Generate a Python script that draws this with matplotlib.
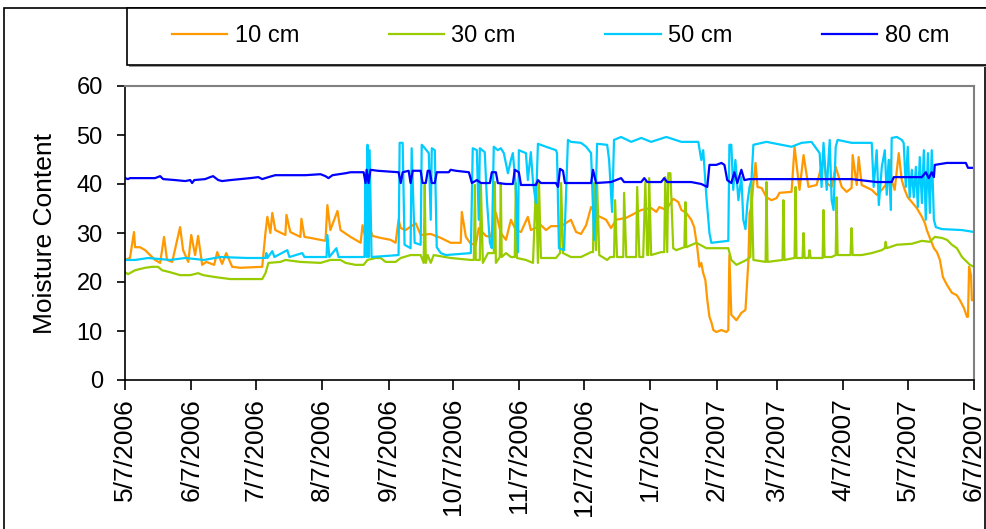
"""Soil moisture content at four depths, May 2006 - June 2007."""

import matplotlib
import matplotlib.pyplot as plt
import numpy as np
import pandas as pd
from matplotlib.patches import Rectangle

matplotlib.use("Agg")

START = pd.Timestamp("2006-05-07")

tick_labels = [
    "5/7/2006", "6/7/2006", "7/7/2006", "8/7/2006", "9/7/2006", "10/7/2006",
    "11/7/2006", "12/7/2006", "1/7/2007", "2/7/2007", "3/7/2007", "4/7/2007",
    "5/7/2007", "6/7/2007",
]
series_names = ["10 cm", "30 cm", "50 cm", "80 cm"]
series_colors = ["#FF9900", "#99CC00", "#00CCFF", "#0000FF"]

# (days since 5/7/2006, moisture content)
cm10 = [
    (0, 24.5), (2.3, 24.9), (4.2, 30.2), (4.7, 27.1), (7.0, 27.1), (9.4, 26.5),
    (11.7, 25.5), (14.0, 24.5), (16.4, 23.9), (18.2, 29.2), (19.6, 24.5),
    (22.0, 24.1), (25.7, 31.2), (27.1, 26.5), (29.5, 24.1), (30.9, 29.6),
    (32.7, 25.5), (34.1, 29.4), (36.0, 23.5), (37.9, 24.1), (41.6, 23.5),
    (43.0, 26.1), (45.3, 23.7), (47.2, 25.9), (50.0, 23.1), (53.8, 22.9),
    (64.0, 23.1), (65.5, 30.0), (66.4, 33.3), (67.8, 30.0), (68.7, 34.1),
    (70.1, 30.6), (74.8, 29.6), (75.3, 33.7), (77.1, 30.2), (81.8, 29.2),
    (82.3, 32.9), (83.7, 29.2), (86.5, 29.0), (91.2, 28.6), (93.5, 28.4),
    (94.4, 35.7), (95.8, 30.6), (99.1, 34.5), (100.5, 30.6), (105.2, 29.2),
    (109.9, 28.0), (110.8, 31.6), (112.2, 29.0), (114.5, 30.6), (115.5, 29.4),
    (119.2, 29.0), (123.9, 28.6), (126.2, 28.0), (127.6, 32.7), (128.6, 31.0),
    (130.9, 30.6), (135.6, 32.0), (137.9, 29.6), (142.6, 29.8), (147.3, 29.0),
    (151.9, 28.0), (156.6, 28.0), (157.1, 34.3), (159.0, 29.2), (161.3, 27.8),
    (163.6, 27.6), (165.0, 31.0), (168.3, 29.4), (170.6, 29.2), (173.0, 34.1),
    (175.3, 30.0), (177.7, 28.6), (180.0, 32.7), (182.3, 30.6), (184.7, 30.2),
    (187.9, 33.3), (189.3, 30.6), (194.0, 31.6), (196.4, 30.6), (198.7, 31.4),
    (203.4, 31.4), (208.0, 32.7), (210.4, 30.2), (212.7, 29.8), (215.1, 31.6),
    (217.4, 35.3), (219.7, 33.7), (224.4, 32.7), (226.7, 31.0), (229.1, 32.7),
    (233.8, 33.1), (240.8, 34.7), (245.4, 35.1), (247.8, 34.3), (249.2, 35.3),
    (252.5, 34.7), (255.7, 37.0), (258.1, 36.3), (259.5, 34.7), (261.8, 34.1),
    (264.1, 32.7), (265.5, 31.2), (266.9, 27.1), (267.9, 23.1), (268.8, 23.9),
    (269.7, 21.8), (270.7, 20.4), (271.6, 16.3), (272.6, 12.9), (273.5, 11.8),
    (274.4, 10.2), (275.8, 9.8), (278.2, 10.2), (280.5, 9.8), (281.4, 10.2),
    (281.9, 25.5), (282.8, 13.3), (285.2, 12.2), (287.5, 13.7), (289.4, 14.3),
    (290.8, 24.5), (291.3, 34.1), (292.2, 35.3), (293.1, 40.2), (294.1, 44.3),
    (295.0, 39.4), (296.9, 39.2), (299.2, 37.3), (301.5, 36.7), (303.9, 37.1),
    (305.3, 38.2), (310.9, 38.4), (312.3, 47.6), (314.6, 38.8), (316.5, 45.9),
    (318.8, 39.4), (322.6, 39.8), (325.8, 45.3), (327.3, 40.2), (329.6, 39.4),
    (331.5, 43.5), (334.3, 39.4), (336.6, 38.4), (338.9, 39.2), (339.4, 45.9),
    (341.3, 39.8), (342.2, 45.5), (343.6, 39.8), (348.3, 38.8), (350.6, 37.8),
    (353.0, 38.8), (354.8, 39.8), (356.7, 44.9), (357.6, 40.8), (359.0, 38.8),
    (360.9, 46.3), (362.3, 40.8), (363.7, 38.8), (365.1, 37.3), (367.0, 36.3),
    (369.3, 35.1), (371.7, 33.3), (373.1, 32.0), (374.0, 30.6), (375.4, 29.0),
    (377.3, 26.9), (378.7, 26.1), (380.1, 24.5), (381.5, 21.0), (383.4, 19.4),
    (385.7, 17.8), (388.0, 17.3), (389.4, 16.3), (391.3, 14.7), (392.7, 12.9),
    (393.2, 12.9), (393.7, 23.1), (394.6, 21.4), (395.0, 16.3), (396.0, 16.3),
]

cm30 = [
    (0, 22.0), (1.4, 21.6), (4.7, 22.4), (9.4, 22.9), (12.6, 23.1), (15.4, 23.1),
    (17.3, 22.4), (21.0, 22.0), (25.7, 21.4), (30.4, 21.4), (34.1, 21.8),
    (36.5, 21.4), (42.1, 21.0), (49.1, 20.6), (64.0, 20.6), (65.5, 21.8),
    (66.9, 23.9), (72.5, 24.1), (74.8, 24.5), (81.8, 24.1), (91.2, 23.9),
    (95.8, 24.5), (100.5, 24.5), (102.9, 23.9), (107.5, 23.5), (111.3, 23.5),
    (113.1, 24.5), (116.9, 24.9), (119.2, 24.9), (121.6, 24.1), (126.2, 24.1),
    (128.6, 24.9), (133.2, 25.5), (137.9, 25.5), (139.3, 23.9), (139.8, 39.8),
    (140.3, 23.9), (141.2, 25.5), (142.6, 23.9), (144.0, 25.5), (151.9, 24.9),
    (161.3, 24.5), (162.7, 24.5), (163.2, 39.8), (163.6, 24.5), (165.5, 24.5),
    (166.0, 39.8), (166.9, 23.9), (169.3, 25.9), (172.0, 25.9), (172.5, 40.4),
    (173.0, 23.9), (174.8, 25.1), (175.3, 40.2), (175.7, 25.1), (177.7, 25.9),
    (180.0, 25.1), (181.8, 25.1), (182.3, 40.2), (182.8, 24.9), (187.0, 24.5),
    (190.3, 23.9), (191.7, 40.2), (192.6, 23.9), (193.1, 40.2), (194.0, 24.9),
    (201.0, 24.9), (202.9, 25.9), (203.4, 40.2), (204.3, 25.9), (208.0, 25.1),
    (212.7, 25.1), (217.4, 26.1), (218.3, 26.1), (218.8, 40.2), (219.7, 26.5),
    (220.2, 40.2), (221.2, 25.5), (224.9, 24.5), (226.3, 25.1), (228.1, 25.1),
    (228.6, 36.7), (229.5, 25.1), (232.4, 25.1), (232.8, 38.2), (233.8, 25.1),
    (238.4, 25.1), (238.9, 39.4), (239.9, 25.1), (241.7, 25.1), (242.7, 40.4),
    (243.6, 25.5), (244.1, 25.5), (244.5, 41.2), (245.4, 25.5), (250.1, 26.1),
    (251.5, 26.1), (252.0, 41.4), (252.9, 26.1), (253.4, 42.2), (254.4, 42.2),
    (255.7, 26.9), (257.1, 26.5), (260.9, 27.1), (261.4, 36.3), (261.8, 27.1),
    (266.5, 28.0), (271.2, 26.9), (281.4, 26.9), (282.8, 24.5), (285.2, 23.5),
    (289.9, 24.5), (291.7, 25.1), (292.2, 40.4), (293.1, 24.5), (298.8, 24.1),
    (299.2, 40.4), (299.7, 24.1), (306.7, 24.5), (307.1, 36.7), (307.6, 24.5),
    (312.3, 24.9), (312.8, 39.4), (313.2, 24.9), (316.0, 24.9), (316.5, 30.0),
    (317.0, 24.9), (318.8, 24.9), (319.3, 26.5), (319.8, 24.9), (325.4, 24.9),
    (325.8, 34.7), (326.3, 25.1), (329.6, 25.1), (331.5, 25.5), (331.9, 37.3),
    (332.4, 25.5), (338.4, 25.5), (338.9, 31.0), (339.4, 25.5), (343.6, 25.5),
    (348.3, 25.9), (353.0, 26.5), (354.4, 26.9), (354.8, 28.2), (355.3, 26.9),
    (360.0, 27.6), (367.0, 27.8), (371.7, 28.4), (375.4, 28.2), (377.7, 29.2),
    (381.0, 29.0), (383.4, 28.6), (385.7, 27.6), (388.0, 26.9), (390.4, 25.1),
    (392.7, 24.1), (394.1, 23.5), (396.0, 23.1),
]

cm50 = [
    (0, 24.5), (4.7, 24.5), (10.8, 24.9), (21.0, 24.5), (28.1, 24.9), (36.9, 24.5),
    (44.4, 25.1), (57.0, 24.9), (65.5, 24.9), (65.9, 25.9), (66.4, 24.9),
    (68.7, 26.3), (69.7, 25.1), (75.7, 26.5), (76.7, 25.1), (82.7, 25.9),
    (83.7, 25.1), (94.0, 25.1), (94.4, 29.6), (95.3, 25.1), (98.6, 26.9),
    (99.6, 25.1), (111.7, 25.1), (112.2, 40.8), (112.7, 25.1), (113.1, 48.0),
    (113.6, 25.1), (114.1, 46.9), (115.0, 25.1), (127.6, 25.5), (128.1, 48.4),
    (129.5, 48.4), (130.4, 27.6), (133.2, 26.9), (133.7, 47.3), (135.1, 28.0),
    (137.9, 27.6), (138.4, 48.0), (139.3, 47.6), (141.7, 46.3), (142.6, 32.7),
    (143.1, 47.3), (144.5, 46.9), (145.4, 27.1), (147.3, 25.9), (149.6, 25.5),
    (161.3, 25.9), (162.2, 47.3), (164.1, 46.9), (165.0, 32.7), (165.5, 47.3),
    (167.8, 46.5), (168.8, 36.7), (170.2, 28.0), (171.1, 26.9), (172.0, 47.6),
    (173.9, 46.9), (175.3, 47.3), (176.7, 46.3), (178.6, 42.2), (180.0, 44.9),
    (180.9, 46.3), (182.3, 39.4), (183.3, 26.1), (183.7, 46.9), (187.0, 46.3),
    (187.9, 40.8), (189.3, 46.5), (190.3, 40.4), (191.7, 36.1), (192.6, 48.2),
    (196.4, 47.6), (201.0, 46.9), (201.5, 46.3), (202.4, 26.9), (204.8, 26.5),
    (206.6, 49.0), (208.0, 48.6), (212.7, 48.4), (215.1, 47.6), (217.4, 46.3),
    (218.8, 28.6), (219.3, 33.3), (220.2, 48.2), (224.9, 48.0), (225.8, 44.9),
    (227.2, 34.3), (228.1, 49.0), (231.4, 49.6), (236.1, 48.6), (240.8, 49.4),
    (245.4, 48.6), (252.5, 49.6), (259.5, 48.6), (267.4, 48.6), (268.8, 44.9),
    (269.7, 46.9), (271.2, 37.3), (272.6, 30.0), (273.5, 28.0), (281.4, 28.4),
    (281.9, 48.0), (282.8, 48.0), (283.7, 38.8), (284.7, 44.9), (286.1, 36.7),
    (287.5, 41.4), (288.4, 32.7), (289.4, 30.8), (290.3, 36.1), (291.3, 39.4),
    (292.2, 40.8), (293.1, 48.0), (299.2, 48.6), (306.2, 48.0), (310.9, 47.6),
    (315.6, 48.4), (320.2, 48.6), (324.0, 46.3), (324.9, 39.4), (325.8, 48.4),
    (327.3, 38.8), (328.7, 49.0), (329.6, 36.7), (330.5, 34.7), (331.5, 47.6),
    (332.4, 49.0), (338.9, 48.4), (348.3, 48.4), (349.2, 39.4), (350.6, 46.9),
    (351.6, 35.7), (353.0, 43.5), (354.4, 46.9), (355.3, 37.8), (356.2, 44.9),
    (357.2, 34.7), (357.6, 49.4), (360.0, 49.6), (362.3, 49.0), (363.2, 48.4),
    (364.2, 39.4), (365.1, 47.6), (366.0, 37.3), (367.0, 42.9), (367.9, 37.3),
    (368.9, 43.5), (369.8, 35.3), (370.7, 45.5), (371.7, 36.1), (372.6, 46.9),
    (373.5, 32.7), (374.5, 46.3), (375.4, 34.1), (376.3, 46.9), (377.3, 32.7),
    (378.2, 31.2), (381.0, 30.8), (390.4, 30.6), (396.0, 30.2),
]

cm80 = [
    (0, 41.2), (1.4, 41.0), (2.3, 41.2), (14.0, 41.2), (16.4, 41.6), (17.8, 41.0),
    (23.4, 40.8), (28.1, 40.6), (30.4, 40.8), (31.3, 40.2), (32.3, 40.8),
    (37.4, 41.0), (39.7, 41.4), (41.1, 41.6), (43.5, 40.8), (45.3, 40.6),
    (49.1, 40.8), (53.8, 41.0), (58.4, 41.2), (62.2, 41.4), (64.0, 41.0),
    (66.9, 41.4), (70.1, 41.8), (77.1, 41.8), (84.2, 41.8), (91.2, 42.0),
    (93.5, 41.6), (94.9, 41.2), (96.8, 41.8), (102.9, 42.2), (105.2, 42.4),
    (111.3, 42.4), (112.2, 40.2), (112.7, 42.9), (113.6, 40.2), (114.5, 42.9),
    (117.8, 42.7), (127.6, 42.4), (128.6, 40.2), (129.5, 42.4), (132.3, 42.7),
    (133.2, 40.2), (134.2, 42.7), (137.9, 42.7), (138.8, 40.2), (140.3, 40.2),
    (141.2, 42.7), (142.1, 42.7), (143.1, 40.2), (144.5, 40.2), (145.4, 42.4),
    (151.0, 42.4), (151.9, 42.9), (154.3, 42.7), (160.4, 42.4), (161.8, 40.2),
    (164.1, 40.8), (166.0, 40.2), (170.2, 40.2), (171.1, 42.4), (173.0, 42.4),
    (173.9, 40.2), (177.7, 40.0), (180.9, 40.0), (181.8, 42.9), (183.7, 42.4),
    (184.7, 39.8), (191.7, 39.8), (192.6, 40.8), (194.0, 40.2), (201.0, 40.2),
    (202.0, 39.4), (202.9, 43.1), (204.3, 42.7), (205.2, 40.2), (217.4, 40.2),
    (218.3, 42.9), (219.7, 40.2), (226.7, 40.4), (231.4, 41.2), (232.8, 40.4),
    (240.8, 40.4), (242.2, 41.2), (243.6, 40.4), (250.1, 40.4), (251.5, 41.2),
    (252.9, 40.4), (264.1, 40.4), (268.8, 40.0), (271.6, 39.4), (272.6, 43.9),
    (275.8, 43.9), (278.2, 44.3), (279.6, 43.9), (280.9, 40.8), (282.8, 40.2),
    (284.2, 42.4), (285.6, 40.2), (287.5, 42.9), (288.9, 40.8), (291.3, 41.0),
    (315.6, 41.0), (338.9, 41.0), (350.6, 40.4), (357.6, 40.4), (358.6, 41.4),
    (371.7, 41.4), (373.5, 42.4), (374.9, 41.2), (376.3, 42.4), (377.3, 41.4),
    (377.7, 43.9), (383.4, 44.3), (392.2, 44.3), (393.2, 43.3), (396.0, 43.3),
]

W, H = 987, 529
SMALL = 17   # legend and y tick labels
LARGE = 19   # rotated date labels and axis title


def to_series(points):
    arr = np.array(points, dtype=float)
    dates = START + pd.to_timedelta(arr[:, 0], unit="D")
    return dates, arr[:, 1]


def main():
    plt.rcParams["font.family"] = ["Liberation Sans", "DejaVu Sans"]

    fig = plt.figure(figsize=(W / 100, H / 100), dpi=100)
    ax = fig.add_axes([125 / W, 1 - 380 / H, (974 - 125) / W, (380 - 86) / H])

    for pts, name, color in zip([cm10, cm30, cm50, cm80], series_names, series_colors):
        x, y = to_series(pts)
        ax.plot(x, y, color=color, linewidth=1.6, label=name)

    ticks = pd.to_datetime(tick_labels, format="%m/%d/%Y")
    ax.set_xlim(ticks[0], ticks[-1])
    ax.set_xticks(ticks)
    ax.set_xticklabels(tick_labels, rotation=90, fontsize=LARGE)
    ax.set_ylim(0, 60)
    ax.set_yticks(range(0, 61, 10))
    ax.tick_params(axis="y", labelsize=SMALL, length=6, width=1.2, pad=10)
    ax.tick_params(axis="x", length=7, width=1.2, pad=6)

    ax.set_ylabel("Moisture Content", fontsize=LARGE)
    ax.yaxis.set_label_coords(-0.08, 0.5)

    for side in ("top", "right"):
        ax.spines[side].set_color("#808080")
        ax.spines[side].set_linewidth(1.5)
    for side in ("left", "bottom"):
        ax.spines[side].set_color("black")
        ax.spines[side].set_linewidth(1.2)

    # outer chart frame and legend box (figure pixels)
    fig.patches.append(Rectangle((4 / W, -0.05), (985 - 4) / W, 1.05 - 8 / H,
                                 transform=fig.transFigure, fill=False,
                                 edgecolor="black", linewidth=1.2))
    fig.patches.append(Rectangle((129 / W, 1 - 67 / H), (990 - 129) / W, (67 - 10) / H,
                                 transform=fig.transFigure, facecolor="#9a9a9a",
                                 edgecolor="none", zorder=1))
    fig.patches.append(Rectangle((127 / W, 1 - 65 / H), (990 - 127) / W, (65 - 8) / H,
                                 transform=fig.transFigure, facecolor="white",
                                 edgecolor="black", linewidth=1.2, zorder=2))

    fig.legend(loc="center left", bbox_to_anchor=(172 / W, 1 - 36 / H), ncol=4,
               frameon=False, fontsize=SMALL, handlelength=2.35, handletextpad=0.3,
               columnspacing=3.8, borderpad=0, borderaxespad=0)

    fig.savefig("out.png", dpi=100)
    plt.close(fig)


if __name__ == "__main__":
    main()
